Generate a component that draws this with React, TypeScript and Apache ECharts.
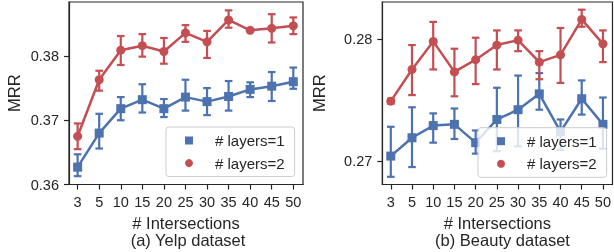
import React, { useEffect, useRef } from "react";
import * as echarts from "echarts";

const xLabels = ["3", "5", "10", "15", "20", "25", "30", "35", "40", "45", "50"];

const yelpL1 = [0.3627, 0.368, 0.3718, 0.3732, 0.3718, 0.3736, 0.3729, 0.3737, 0.3748, 0.3753, 0.376];
const yelpL1Lo = [0.3613, 0.3656, 0.37, 0.3712, 0.3705, 0.3715, 0.3708, 0.3715, 0.3736, 0.373, 0.3749];
const yelpL1Hi = [0.3647, 0.371, 0.3736, 0.3756, 0.3733, 0.3763, 0.375, 0.3761, 0.3759, 0.3775, 0.3782];
const yelpL2 = [0.3675, 0.3763, 0.3809, 0.3816, 0.3807, 0.3836, 0.3822, 0.3856, 0.384, 0.3843, 0.3847];
const yelpL2Lo = [0.3655, 0.3746, 0.3786, 0.3799, 0.3788, 0.3822, 0.3797, 0.3844, 0.3839, 0.3821, 0.3834];
const yelpL2Hi = [0.3695, 0.3777, 0.3831, 0.3834, 0.3828, 0.3848, 0.3839, 0.3871, 0.3841, 0.3865, 0.386];

const beautyL1 = [0.2704, 0.2719, 0.2729, 0.273, 0.2715, 0.2734, 0.2742, 0.2755, 0.2724, 0.2751, 0.273];
const beautyL1Lo = [0.2687, 0.2695, 0.2715, 0.2718, 0.2706, 0.2708, 0.2712, 0.2742, 0.2709, 0.2738, 0.271];
const beautyL1Hi = [0.2728, 0.2744, 0.2739, 0.2743, 0.2725, 0.276, 0.277, 0.2772, 0.2734, 0.2766, 0.2752];
const beautyL2 = [0.2749, 0.2775, 0.2798, 0.2773, 0.2783, 0.2795, 0.2799, 0.2781, 0.2787, 0.2816, 0.2796];
const beautyL2Lo = [0.2747, 0.2754, 0.2775, 0.2753, 0.2763, 0.2775, 0.279, 0.2767, 0.2764, 0.281, 0.2781];
const beautyL2Hi = [0.2751, 0.2795, 0.2814, 0.2792, 0.2801, 0.2807, 0.2807, 0.279, 0.2809, 0.2824, 0.2807];

const yelpTicks = [0.36, 0.37, 0.38];
const beautyTicks = [0.27, 0.28];

const seriesNames = ["# layers=1", "# layers=2"];
const subtitles = ["(a) Yelp dataset", "(b) Beauty dataset"];

const BLUE = "#4C72B0";
const RED = "#C44E52";
const INK = "#262626";
const FONT = "Liberation Sans, Arial, sans-serif";

function errSeries(xi: number, lo: number[], hi: number[], color: string, z: number) {
  return {
    type: "custom",
    name: "err" + xi + color,
    xAxisIndex: xi,
    yAxisIndex: xi,
    silent: true,
    z,
    encode: { x: 0, y: [1, 2] },
    data: lo.map((l, i) => [i, l, hi[i]]),
    renderItem: (params: any, api: any) => {
      const x = api.value(0);
      const p1 = api.coord([x, api.value(1)]);
      const p2 = api.coord([x, api.value(2)]);
      const w = 3.8;
      const style = { stroke: color, lineWidth: 2.2 };
      return {
        type: "group",
        children: [
          { type: "line", shape: { x1: p1[0], y1: p1[1], x2: p2[0], y2: p2[1] }, style },
          { type: "line", shape: { x1: p1[0] - w, y1: p1[1], x2: p1[0] + w, y2: p1[1] }, style },
          { type: "line", shape: { x1: p2[0] - w, y1: p2[1], x2: p2[0] + w, y2: p2[1] }, style },
        ],
      };
    },
  };
}

function lineSeries(xi: number, name: string, vals: number[], color: string, symbol: string, z: number) {
  return {
    type: "line",
    name,
    xAxisIndex: xi,
    yAxisIndex: xi,
    z,
    data: vals.map((v, i) => [i, v]),
    symbol,
    symbolSize: 9,
    showAllSymbol: true,
    lineStyle: { color, width: 2.5 },
    itemStyle: { color },
  };
}

function xAxis(gi: number) {
  return {
    type: "value",
    gridIndex: gi,
    min: -0.4,
    max: 10.45,
    name: "# Intersections",
    nameLocation: "middle",
    nameGap: 34.5,
    nameTextStyle: { fontSize: 16.5, color: INK, fontFamily: FONT, verticalAlign: "middle" },
    axisLine: { show: true, onZero: false, lineStyle: { color: INK, width: 1.2 } },
    axisTick: { show: true, length: 5, lineStyle: { color: INK, width: 1.2 }, customValues: xLabels.map((_, i) => i) },
    axisLabel: {
      show: true,
      margin: 10,
      fontSize: 14.5,
      color: INK,
      fontFamily: FONT,
      customValues: xLabels.map((_, i) => i),
      formatter: (v: number) => xLabels[Math.round(v)] ?? "",
    },
    splitLine: { show: false },
  };
}

function yAxis(gi: number, min: number, max: number, ticks: number[], nameGap: number) {
  return {
    type: "value",
    gridIndex: gi,
    min,
    max,
    name: "MRR",
    nameLocation: "middle",
    nameGap,
    nameTextStyle: { fontSize: 16.5, color: INK, fontFamily: FONT, verticalAlign: "middle" },
    axisLine: { show: true, onZero: false, lineStyle: { color: INK, width: 1.2 } },
    axisTick: { show: true, length: 5, lineStyle: { color: INK, width: 1.2 }, customValues: ticks },
    axisLabel: {
      show: true,
      margin: 10,
      fontSize: 14.5,
      color: INK,
      fontFamily: FONT,
      customValues: ticks,
      formatter: (v: number) => v.toFixed(2),
    },
    splitLine: { show: false },
  };
}

function legend(left: number, top: number) {
  return {
    orient: "vertical",
    left,
    top,
    z: 10,
    padding: [6, 10, 6, 19],
    itemGap: 7.6,
    itemWidth: 8,
    itemHeight: 8,
    backgroundColor: "rgba(255,255,255,0.8)",
    borderColor: "#cccccc",
    borderWidth: 1,
    borderRadius: 3,
    selectedMode: false,
    textStyle: { fontSize: 15, color: INK, fontFamily: FONT, lineHeight: 15, padding: [0, 0, 0, 17] },
    data: [
      { name: seriesNames[0], icon: "rect" },
      { name: seriesNames[1], icon: "circle" },
    ],
  };
}

export default function App() {
  const ref = useRef<HTMLDivElement>(null);
  useEffect(() => {
    if (!ref.current) return;
    const chart = echarts.init(ref.current, null, { renderer: "svg" });
    const gridStyle = { show: true, borderColor: INK, borderWidth: 1.2, backgroundColor: "transparent" };
    chart.setOption({
      animation: false,
      textStyle: { fontFamily: FONT },
      grid: [
        { left: 69, right: 311, top: 2, bottom: 67.5, ...gridStyle },
        { left: 382.3, right: -1.7, top: 2, bottom: 67.5, ...gridStyle },
      ],
      xAxis: [xAxis(0), xAxis(1)],
      yAxis: [yAxis(0, 0.36, 0.3884, yelpTicks, 55), yAxis(1, 0.26807, 0.28303, beautyTicks, 63)],
      legend: [legend(166, 127), legend(478, 127.7)],
      graphic: [
        { type: "text", x: 188, y: 239.5, style: { text: subtitles[0], fontSize: 16.5, fill: INK, fontFamily: FONT, textAlign: "center", textVerticalAlign: "middle" } },
        { type: "text", x: 502.5, y: 239.5, style: { text: subtitles[1], fontSize: 16.5, fill: INK, fontFamily: FONT, textAlign: "center", textVerticalAlign: "middle" } },
      ],
      series: [
        errSeries(0, yelpL1Lo, yelpL1Hi, BLUE, 2),
        lineSeries(0, seriesNames[0], yelpL1, BLUE, "rect", 3),
        errSeries(0, yelpL2Lo, yelpL2Hi, RED, 4),
        lineSeries(0, seriesNames[1], yelpL2, RED, "circle", 5),
        errSeries(1, beautyL1Lo, beautyL1Hi, BLUE, 2),
        lineSeries(1, seriesNames[0], beautyL1, BLUE, "rect", 3),
        errSeries(1, beautyL2Lo, beautyL2Hi, RED, 4),
        lineSeries(1, seriesNames[1], beautyL2, RED, "circle", 5),
      ],
    });
    return () => chart.dispose();
  }, []);
  return <div ref={ref} style={{ position: "fixed", left: 0, top: 0, width: 614, height: 252 }} />;
}
